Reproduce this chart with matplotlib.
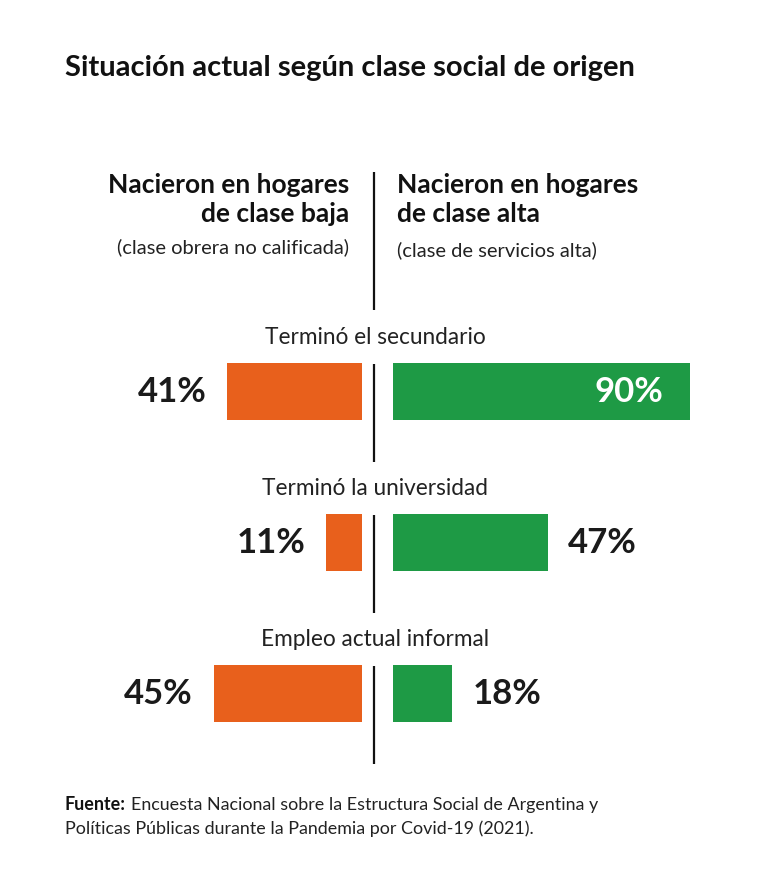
import matplotlib.pyplot as plt
import numpy as np

# datos
categorias = ["Terminó el secundario", "Terminó la universidad", "Empleo actual informal"]
clase_baja = [41, 11, 45]
clase_alta = [90, 47, 18]

titulo = "Situación actual según clase social de origen"
enc_izq = ["Nacieron en hogares", "de clase baja"]
sub_izq = "(clase obrera no calificada)"
enc_der = ["Nacieron en hogares", "de clase alta"]
sub_der = "(clase de servicios alta)"
fuente_bold = "Fuente:"
fuente_txt = ["Encuesta Nacional sobre la Estructura Social de Argentina y",
              "Políticas Públicas durante la Pandemia por Covid-19 (2021)."]

naranja = "#E8601C"
verde = "#1E9A45"
FONT = ["Lato", "DejaVu Sans"]

W, H = 767, 885
fig = plt.figure(figsize=(W / 100, H / 100), dpi=100)
fig.patch.set_facecolor("white")


def caja(x0, y0, x1, y1):
    # pixeles -> fraccion de figura
    return [x0 / W, 1 - y1 / H, (x1 - x0) / W, (y1 - y0) / H]


# capa de fondo en pixeles para textos y linea central
base = fig.add_axes([0, 0, 1, 1])
base.set_xlim(0, W)
base.set_ylim(H, 0)
base.axis("off")

px_por_pct = 3.3
slot_top, slot = 316, 151
ax_izq = fig.add_axes(caja(362 - 100 * px_por_pct, slot_top, 362, slot_top + 3 * slot))
ax_der = fig.add_axes(caja(393, slot_top, 393 + 100 * px_por_pct, slot_top + 3 * slot))
y = np.arange(len(categorias))
for ax in (ax_izq, ax_der):
    ax.set_ylim(2.5, -0.5)
    ax.axis("off")
ax_izq.set_xlim(100, 0)
ax_der.set_xlim(0, 100)

ax_izq.barh(y, clase_baja, height=0.38, color=naranja)
ax_der.barh(y, clase_alta, height=0.38, color=verde)

for i, v in enumerate(clase_baja):
    ax_izq.text(v + 6.2, i, f"{v}%", ha="right", va="center", fontsize=25,
                fontweight="bold", color="#1a1a1a", family=FONT)
for i, v in enumerate(clase_alta):
    if v > 70:
        ax_der.text(v - 8.2, i, f"{v}%", ha="right", va="center", fontsize=25,
                    fontweight="bold", color="white", family=FONT)
    else:
        ax_der.text(v + 6.0, i, f"{v}%", ha="left", va="center", fontsize=25,
                    fontweight="bold", color="#1a1a1a", family=FONT)

# etiquetas de categoria y linea central
for i, c in enumerate(categorias):
    yc = slot_top + slot * (i + 0.5)
    base.text(375, yc - 54, c, ha="center", va="center", fontsize=16.3,
              color="#222222", family=FONT)
    base.plot([374, 374], [yc - 28, yc + 70], color="#111111", lw=1.6,
              solid_capstyle="butt")
base.plot([374, 374], [172, 310], color="#111111", lw=1.6, solid_capstyle="butt")

# titulo
base.text(65, 68, titulo, ha="left", va="center", fontsize=21, fontweight="bold",
          color="#111111", family=FONT)

# encabezados
for k, linea in enumerate(enc_izq):
    base.text(349, 185 + 29 * k, linea, ha="right", va="center", fontsize=19,
              fontweight="bold", color="#111111", family=FONT)
base.text(349, 247, sub_izq, ha="right", va="center", fontsize=14.5,
          color="#222222", family=FONT)
for k, linea in enumerate(enc_der):
    base.text(397, 185 + 29 * k, linea, ha="left", va="center", fontsize=19,
              fontweight="bold", color="#111111", family=FONT)
base.text(397, 250, sub_der, ha="left", va="center", fontsize=14.5,
          color="#222222", family=FONT)

# fuente
t = base.text(65, 805, fuente_bold, ha="left", va="center", fontsize=12.9,
              fontweight="bold", color="#111111", family=FONT)
r = fig.canvas.get_renderer()
ancho = t.get_window_extent(renderer=r).width
base.text(65 + ancho + 5, 805, fuente_txt[0], ha="left", va="center", fontsize=12.9,
          color="#222222", family=FONT)
base.text(65, 829, fuente_txt[1], ha="left", va="center", fontsize=12.9,
          color="#222222", family=FONT)

fig.savefig("out.png", dpi=100, facecolor="white")
